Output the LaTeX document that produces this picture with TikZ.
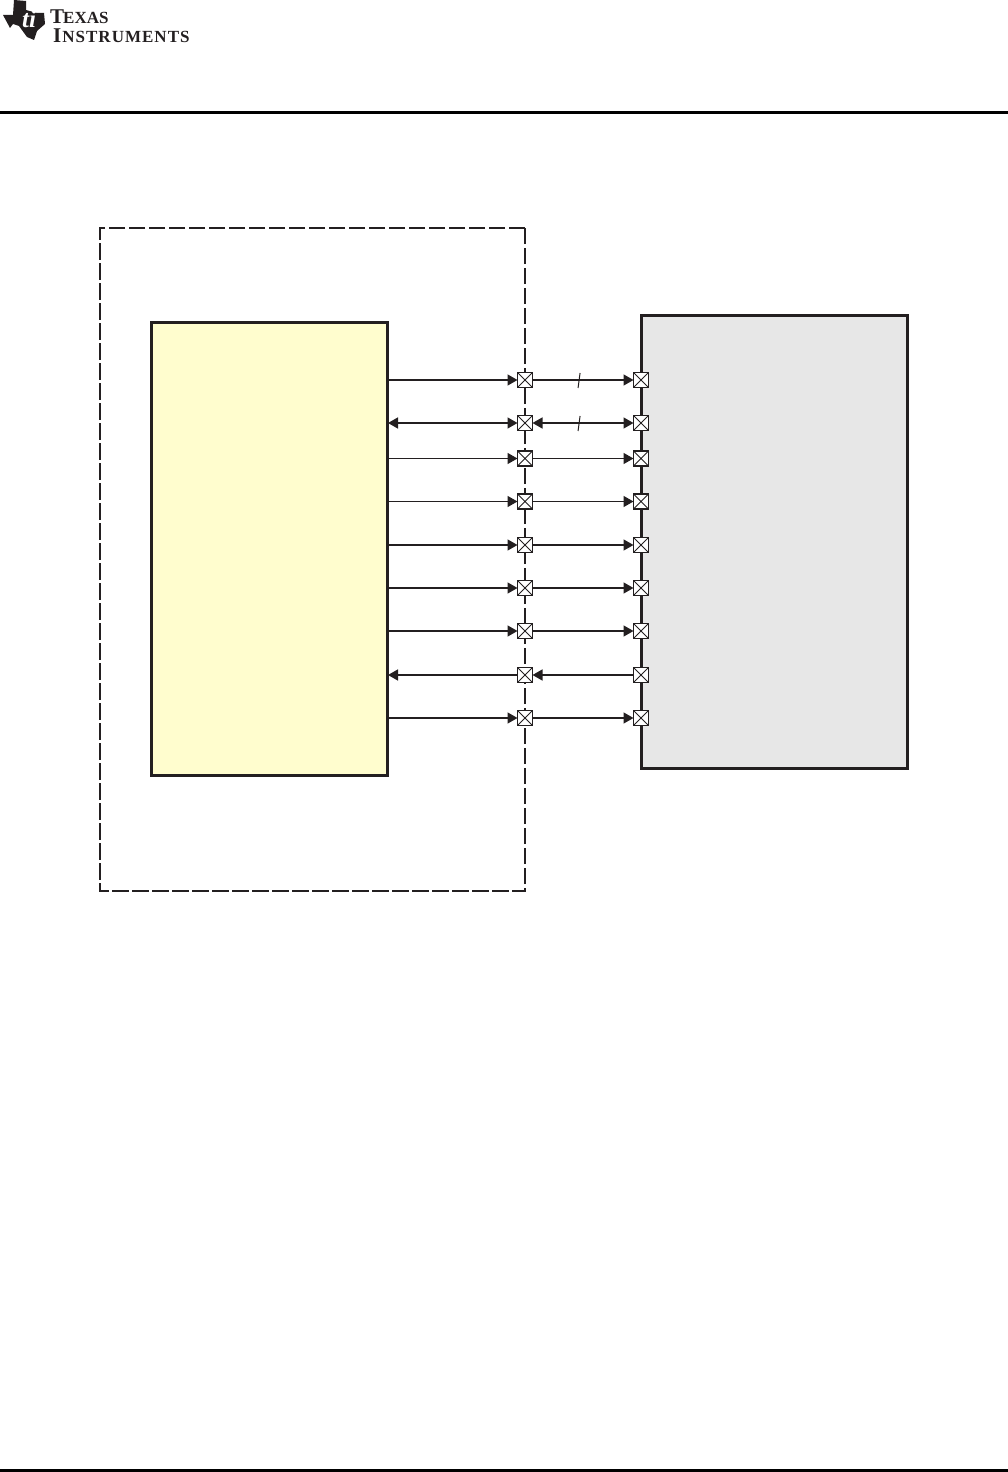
\documentclass[tikz,border=0pt]{standalone}
\usepackage{fontspec}
\setmainfont{Liberation Serif}
\usetikzlibrary{calc,arrows.meta,positioning}
\definecolor{inkblack}{RGB}{35,31,32}
\definecolor{socyellow}{RGB}{255,253,206}
\definecolor{memgray}{RGB}{231,231,231}
\newcommand{\logosmall}{\fontsize{17}{17}\selectfont}
\tikzset{
  block/.style={draw=inkblack,line width=3pt,minimum width=#1,inner sep=0pt,anchor=north west},
  port/.style={draw=inkblack,line width=1.4pt,fill=white,minimum size=15pt,inner sep=0pt,outer sep=0pt,
    path picture={\draw[inkblack,line width=1pt]
      (path picture bounding box.north west)--(path picture bounding box.south east)
      (path picture bounding box.north east)--(path picture bounding box.south west);}},
  wire/.style={inkblack,line width=1.5pt},
  logotext/.style={inkblack,anchor=south west,inner sep=0pt,align=left,font=\bfseries\fontsize{21}{19}\selectfont},
}
\begin{document}
\begin{tikzpicture}[x=1pt,y=-1pt,>={Triangle[length=10pt,width=11pt]}]
  \useasboundingbox (0,0) rectangle (1008,1472);
  % page furniture
  \fill[black] (0,110.5) rectangle (1008,113.5);
  \fill[black] (0,1469) rectangle (1008,1472);
  \fill[inkblack] (3,15) -- (13,15) -- (14,0) -- (26,1) -- (26,10) -- (37,13) -- (44,13) -- (45,24)
    -- (37,31) -- (34,40) -- (27,37) -- (19,26) -- (13,24) -- (10,28) -- cycle;
  \node[white,font=\bfseries\itshape\fontsize{25}{25}\selectfont,inner sep=0pt] (tilogo) at (29,19) {ti};
  \node[logotext] (tiword) at (50,43)
    {T\kern-1pt{\logosmall EXAS}\\\hspace*{3pt}I\kern1pt{\logosmall\addfontfeature{LetterSpace=6}NSTRUMENTS}};
  % blocks
  \draw[inkblack,line width=2.5pt,dash pattern=on 16.5pt off 3.5pt] (525,228) -| (100,891) -- (525,891) -- cycle;
  \node[block=236pt,fill=socyellow,minimum height=453pt] (soc) at (149.5,320.5) {};
  \node[block=266pt,fill=memgray,minimum height=453pt] (mem) at (639.5,313.5) {};
  % ports and wires
  \foreach \n/\y in {1/380,2/423,3/458.5,4/501.5,5/545,6/588,7/631,8/675,9/718}{
    \coordinate (lft\n) at (388,\y);
    \node[port] (pm\n) at (525,\y) {};
    \node[port] (pr\n) at (641,\y) {};
  }
  \foreach \n in {1,3,4,5,6,7,9}{
    \draw[wire,->] (lft\n) -- (pm\n);
    \draw[wire,->] (pm\n) -- (pr\n);
  }
  \draw[wire,<->] (lft2) -- (pm2);
  \draw[wire,<->] (pm2) -- (pr2);
  \draw[wire,<-] (lft8) -- (pm8);
  \draw[wire,<-] (pm8) -- (pr8);
  % bus ticks
  \foreach \n in {1,2}
    \draw[inkblack,line width=1pt] ($(pm\n)!0.466!(pr\n)+(-1,8)$) -- ++(2,-15);
\end{tikzpicture}
\end{document}
